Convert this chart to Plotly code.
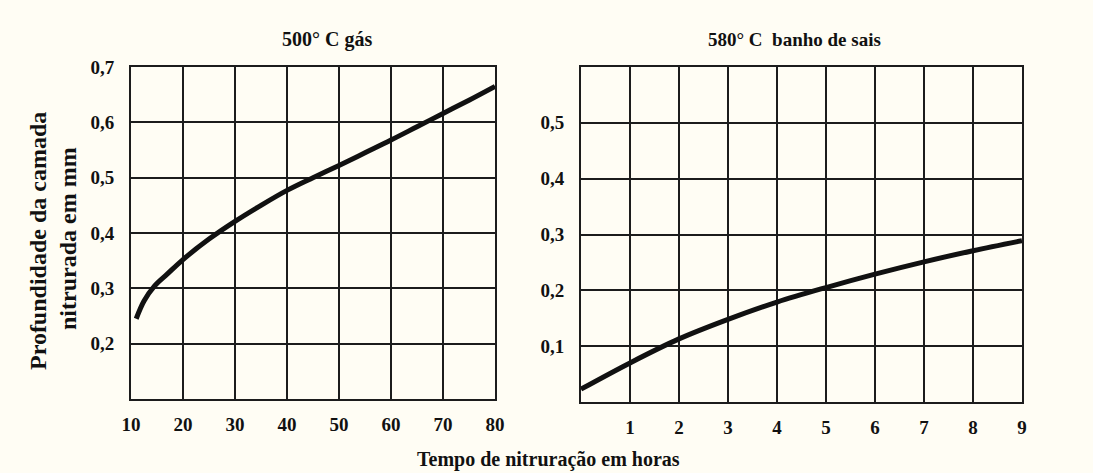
import plotly.graph_objects as go

# Left panel: 500 °C gas nitriding
gas_hours = [11, 12.5, 14.5, 17, 20, 25, 30, 35, 40, 45, 50, 55, 60, 65, 70, 75, 80]
gas_depth = [0.245, 0.277, 0.304, 0.326, 0.352, 0.389, 0.421, 0.45, 0.477, 0.5, 0.522, 0.545, 0.568, 0.592, 0.616, 0.64, 0.665]

# Right panel: 580 °C salt bath
salt_hours = [0, 1, 2, 3, 4, 5, 6, 7, 8, 9]
salt_depth = [0.023, 0.07, 0.113, 0.148, 0.179, 0.205, 0.229, 0.251, 0.271, 0.289]

left_xticks = [10, 20, 30, 40, 50, 60, 70, 80]
left_yticks = [0.2, 0.3, 0.4, 0.5, 0.6, 0.7]
left_ylabels = ["0,2", "0,3", "0,4", "0,5", "0,6", "0,7"]
right_xticks = [1, 2, 3, 4, 5, 6, 7, 8, 9]
right_yticks = [0.1, 0.2, 0.3, 0.4, 0.5]
right_ylabels = ["0,1", "0,2", "0,3", "0,4", "0,5"]

W, H = 1093, 473
BG = "#fffdf4"
INK = "#111111"
FONT = "Liberation Serif"

fig = go.Figure()
fig.add_trace(go.Scatter(x=gas_hours, y=gas_depth, mode="lines", line=dict(color=INK, width=5, shape="spline"),
                         xaxis="x", yaxis="y", showlegend=False, hoverinfo="skip"))
fig.add_trace(go.Scatter(x=salt_hours, y=salt_depth, mode="lines", line=dict(color=INK, width=5, shape="spline"),
                         xaxis="x2", yaxis="y2", showlegend=False, hoverinfo="skip"))

axis_common = dict(showgrid=True, gridcolor="#1c1c1c", gridwidth=1.6, zeroline=False,
                   showline=True, linecolor="#1c1c1c", linewidth=2, mirror=True, ticks="",
                   automargin=False,
                   tickfont=dict(family=FONT, size=19, color=INK, weight="bold"))

def ann(text, x, y, size, angle=0):
    return dict(text=text, x=x / W, y=(H - y) / H, xref="paper", yref="paper",
                xanchor="center", yanchor="middle", showarrow=False, textangle=angle,
                font=dict(family=FONT, size=size, color=INK))

fig.update_layout(
    width=W, height=H,
    margin=dict(l=0, r=0, t=0, b=0, autoexpand=False),
    paper_bgcolor=BG, plot_bgcolor=BG,
    xaxis=dict(domain=[131 / W, 495 / W], range=[10, 80], tickvals=left_xticks,
               ticktext=[str(v) for v in left_xticks], anchor="y", ticklabelstandoff=7, **axis_common),
    yaxis=dict(domain=[(H - 399) / H, (H - 67) / H], range=[0.1, 0.7], tickvals=left_yticks,
               ticktext=left_ylabels, anchor="x", ticklabelstandoff=11, **axis_common),
    xaxis2=dict(domain=[581 / W, 1022 / W], range=[0, 9], tickvals=[0] + right_xticks,
                ticktext=[""] + [str(v) for v in right_xticks], anchor="y2", ticklabelstandoff=7, **axis_common),
    yaxis2=dict(domain=[(H - 402) / H, (H - 67) / H], range=[0, 0.6], tickvals=right_yticks + [0.6],
                ticktext=right_ylabels + [""], anchor="x2", ticklabelstandoff=11, **axis_common),
    annotations=[
        ann("<b>500° C gás</b>", 327, 39, 20),
        ann("<b>580° C\u00a0 banho de sais</b>", 794, 39, 19),
        ann("<b>Profundidade da camada</b>", 38, 241, 24, -90),
        ann("<b>nitrurada em mm</b>", 68, 239, 24, -90),
        ann("<b>Tempo de nitruração em horas</b>", 548, 459, 20),
    ],
)

fig.write_html("out.html")
